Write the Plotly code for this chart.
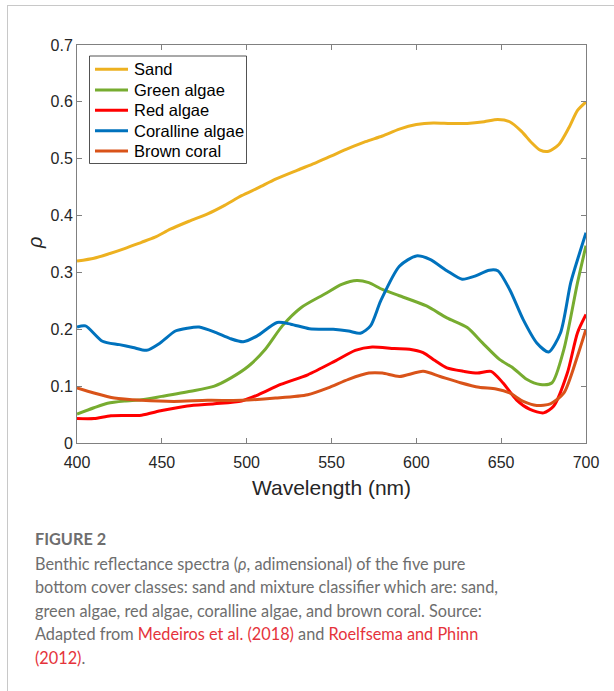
import plotly.graph_objects as go

names = ["Sand", "Green algae", "Red algae", "Coralline algae", "Brown coral"]
colors = ["#EDB120", "#77AC30", "#FF0000", "#0072BD", "#D95319"]

sand_wl = [400, 410, 418, 428, 438, 446, 455, 466, 477, 487, 497, 507, 517, 530, 540, 550, 560, 570, 580, 590,
           600, 610, 620, 630, 640, 648, 655, 662, 668, 673, 678, 684, 690, 695, 700]
sand_val = [0.320, 0.325, 0.332, 0.342, 0.353, 0.362, 0.376, 0.390, 0.403, 0.418, 0.435, 0.449, 0.464, 0.480,
            0.492, 0.505, 0.518, 0.530, 0.540, 0.552, 0.560, 0.563, 0.562, 0.562, 0.565, 0.569, 0.565, 0.548,
            0.528, 0.515, 0.513, 0.525, 0.555, 0.585, 0.600]

green_wl = [400, 410, 418, 428, 438, 450, 467, 481, 491, 501, 511, 521, 532, 546, 556, 565, 572, 580, 590, 606,
            618, 630, 639, 649, 657, 665, 673, 680, 687, 695, 700]
green_val = [0.051, 0.062, 0.070, 0.074, 0.076, 0.082, 0.091, 0.100, 0.115, 0.135, 0.165, 0.206, 0.238, 0.262,
             0.279, 0.286, 0.282, 0.270, 0.259, 0.241, 0.220, 0.203, 0.176, 0.147, 0.132, 0.112, 0.103, 0.106,
             0.165, 0.282, 0.347]

red_wl = [400, 410, 420, 438, 450, 465, 481, 497, 507, 520, 536, 552, 564, 574, 587, 596, 604, 611, 618, 628,
          636, 644, 651, 659, 667, 675, 681, 689, 695, 700]
red_val = [0.043, 0.043, 0.048, 0.049, 0.057, 0.065, 0.069, 0.074, 0.085, 0.103, 0.120, 0.144, 0.163, 0.169,
           0.166, 0.165, 0.159, 0.145, 0.132, 0.126, 0.123, 0.126, 0.106, 0.076, 0.059, 0.053, 0.065, 0.123,
           0.194, 0.226]

coral_wl = [400, 405, 415, 425, 433, 441, 449, 458, 465, 472, 482, 490, 498, 506, 518, 526, 537, 551, 560, 567,
            573, 579, 590, 600, 608, 618, 627, 634, 643, 648, 655, 663, 671, 678, 685, 691, 696, 700]
coral_val = [0.204, 0.206, 0.179, 0.173, 0.168, 0.163, 0.176, 0.197, 0.202, 0.204, 0.194, 0.184, 0.178, 0.188,
             0.212, 0.209, 0.201, 0.200, 0.197, 0.193, 0.206, 0.250, 0.311, 0.329, 0.323, 0.303, 0.288, 0.293,
             0.304, 0.303, 0.270, 0.217, 0.176, 0.160, 0.194, 0.282, 0.332, 0.370]

brown_wl = [400, 410, 422, 438, 457, 477, 497, 517, 536, 548, 560, 572, 580, 590, 604, 614, 626, 637, 647, 655,
            663, 671, 679, 687, 695, 700]
brown_val = [0.097, 0.088, 0.079, 0.075, 0.073, 0.075, 0.075, 0.079, 0.085, 0.097, 0.112, 0.123, 0.123, 0.117,
             0.126, 0.117, 0.106, 0.098, 0.095, 0.088, 0.073, 0.066, 0.069, 0.088, 0.153, 0.200]

x_ticks = [400, 450, 500, 550, 600, 650, 700]
y_ticks = [0, 0.1, 0.2, 0.3, 0.4, 0.5, 0.6, 0.7]
y_tick_text = ["0", "0.1", "0.2", "0.3", "0.4", "0.5", "0.6", "0.7"]

series = [(sand_wl, sand_val), (green_wl, green_val), (red_wl, red_val), (coral_wl, coral_val), (brown_wl, brown_val)]

W, H = 614, 691
L, R, T, B = 77, 586, 45, 443


def px(x):
    return (x - L) / (R - L)


def py(y):
    return (B - y) / (B - T)


fig = go.Figure()
for (wl, val), name, col in zip(series, names, colors):
    fig.add_trace(go.Scatter(x=wl, y=val, mode="lines", name=name, showlegend=False,
                             line=dict(color=col, width=3, shape="spline", smoothing=0.7)))

axis_common = dict(showline=True, linecolor="#808080", linewidth=1, mirror="ticks", ticks="inside",
                   ticklen=5, tickcolor="#808080", showgrid=False, zeroline=False,
                   tickfont=dict(family="Liberation Sans, Arial", size=16, color="#262626"))

fig.update_xaxes(range=[400, 700], tickvals=x_ticks, ticklabelstandoff=5, **axis_common,
                 title=dict(text="Wavelength (nm)", font=dict(family="Liberation Sans, Arial", size=21,
                                                                color="#262626"), standoff=10))
fig.update_yaxes(range=[0, 0.7], tickvals=y_ticks, ticktext=y_tick_text, **axis_common)

annotations = [
    dict(text="<i>ρ</i>", xref="paper", yref="paper", x=px(35), y=py(243), textangle=-90, showarrow=False,
         font=dict(family="Liberation Sans, Arial", size=20, color="#262626"), xanchor="center", yanchor="middle"),
]

shapes = [
    dict(type="line", xref="paper", yref="paper", x0=px(7), x1=px(614), y0=py(5.5), y1=py(5.5),
         line=dict(color="#c8c8c8", width=1)),
    dict(type="line", xref="paper", yref="paper", x0=px(7.5), x1=px(7.5), y0=py(5.5), y1=py(691),
         line=dict(color="#c8c8c8", width=1)),
    # legend box
    dict(type="rect", xref="paper", yref="paper", x0=px(89.5), x1=px(246.5), y0=py(56), y1=py(163.5),
         line=dict(color="#262626", width=0.8), fillcolor="white", layer="above"),
]

# legend entries (manual, to match the compact row spacing)
row_y = [69.3, 90, 110.3, 130.7, 151]
for name, col, ry in zip(names, colors, row_y):
    shapes.append(dict(type="line", xref="paper", yref="paper", x0=px(95), x1=px(128), y0=py(ry), y1=py(ry),
                       line=dict(color=col, width=3), layer="above"))
    annotations.append(dict(text=name, xref="paper", yref="paper", x=px(131.5), y=py(ry), showarrow=False,
                            xanchor="left", yanchor="middle",
                            font=dict(family="Liberation Sans, Arial", size=16.5, color="#000000")))

cap_font = "Lato, Open Sans, sans-serif"
gray = "#6e6e6e"
red = "#e5333b"
cap_lines = [
    ("<b>FIGURE 2</b>", 538),
    ("Benthic reflectance spectra (<i>ρ</i>, adimensional) of the five pure", 563),
    ("bottom cover classes: sand and mixture classifier which are: sand,", 586.5),
    ("green algae, red algae, coralline algae, and brown coral. Source:", 610),
    ("Adapted from <span style='color:%s'>Medeiros et al. (2018)</span> and "
     "<span style='color:%s'>Roelfsema and Phinn</span>" % (red, red), 633.5),
    ("<span style='color:%s'>(2012)</span>." % red, 657),
]
for txt, yy in cap_lines:
    annotations.append(dict(text=txt, xref="paper", yref="paper", x=px(33), y=py(yy), showarrow=False,
                            xanchor="left", yanchor="middle",
                            font=dict(family=cap_font, size=16.3, color=gray)))

fig.update_layout(
    width=W, height=H, margin=dict(l=L, r=W - R, t=T, b=H - B, pad=0),
    paper_bgcolor="white", plot_bgcolor="white",
    showlegend=False,
    annotations=annotations, shapes=shapes,
)

fig.write_html("out.html")
